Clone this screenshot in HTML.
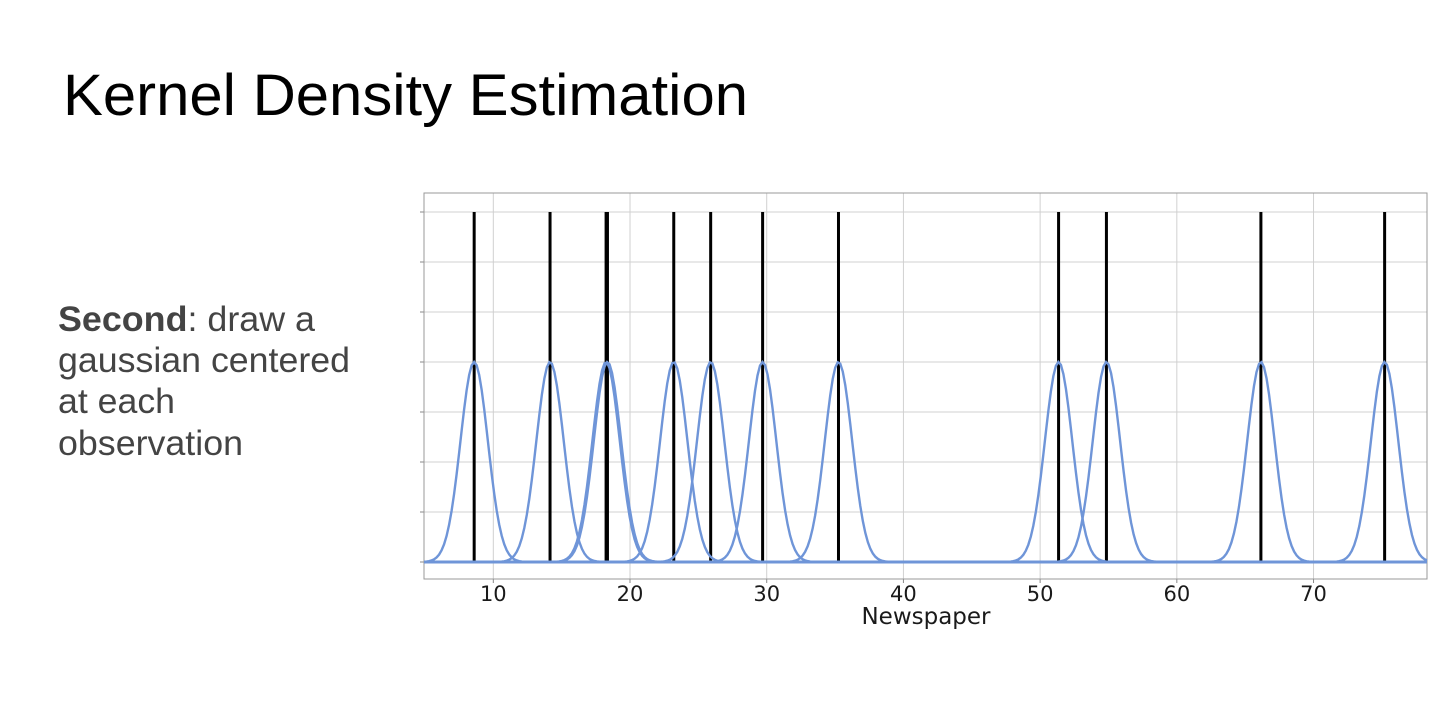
<!DOCTYPE html>
<html><head><meta charset="utf-8"><style>
html,body{margin:0;padding:0;background:#fff;width:1440px;height:710px;overflow:hidden}
svg{display:block}
</style></head><body>
<svg width="1440" height="710" xmlns="http://www.w3.org/2000/svg">
<text x="63" y="115" font-family="Liberation Sans, sans-serif" font-size="58" fill="#000" textLength="685" lengthAdjust="spacingAndGlyphs">Kernel Density Estimation</text>
<g font-family="Liberation Sans, sans-serif" font-size="35" fill="#444">
<text x="58" y="331" textLength="257" lengthAdjust="spacingAndGlyphs"><tspan font-weight="bold">Second</tspan>: draw a</text>
<text x="58" y="372" textLength="292" lengthAdjust="spacingAndGlyphs">gaussian centered</text>
<text x="58" y="413" textLength="117" lengthAdjust="spacingAndGlyphs">at each</text>
<text x="58" y="455" textLength="185" lengthAdjust="spacingAndGlyphs">observation</text>
</g>
<g id="chart"></g>
</svg>
<script>
const observations = [8.6, 14.15, 18.25, 18.35, 23.2, 25.9, 29.7, 35.25, 51.35, 54.85, 66.15, 75.2];
const xTicks = [10, 20, 30, 40, 50, 60, 70];
const yGrid = [0, 1, 2, 3, 4, 5, 6, 7];
const lineHeight = [7];
const kernelPeak = [4];
const bandwidth = [1.0];
const xLabel = "Newspaper";

const L=424,R=1427,T=193,B=579;
const xmin=4.93,xmax=78.3,ymin=-0.34,ymax=7.38;
const sx=v=>L+(v-xmin)/(xmax-xmin)*(R-L);
const sy=v=>B-(v-ymin)/(ymax-ymin)*(B-T);
const NS="http://www.w3.org/2000/svg";
const g=document.getElementById('chart');
function mk(t,a){const e=document.createElementNS(NS,t);for(const k in a)e.setAttribute(k,a[k]);g.appendChild(e);return e;}

let e=mk('rect',{x:L,y:T,width:R-L,height:B-T,fill:'#fff',stroke:'none'});


xTicks.forEach(t=>{
  let l=mk('line',{x1:sx(t),x2:sx(t),y1:T,y2:B,stroke:'#d0d0d0','stroke-width':1});
  
  
  let tk=mk('line',{x1:sx(t),x2:sx(t),y1:B,y2:B+4,stroke:'#888','stroke-width':1});
  
  
  let tx=mk('text',{x:sx(t),y:601,'text-anchor':'middle','font-family':'DejaVu Sans, sans-serif','font-size':21,fill:'#1a1a1a'});
  tx.textContent=t;
  
  
});
yGrid.forEach(t=>{
  let l=mk('line',{x1:L,x2:R,y1:sy(t),y2:sy(t),stroke:'#d0d0d0','stroke-width':1});
  
  
  let tk=mk('line',{x1:L-4,x2:L,y1:sy(t),y2:sy(t),stroke:'#888','stroke-width':1});
  
  
});
e=mk('rect',{x:L,y:T,width:R-L,height:B-T,fill:'none',stroke:'#999','stroke-width':1});



observations.forEach(o=>{
  let l=mk('line',{x1:sx(o),x2:sx(o),y1:sy(0),y2:sy(lineHeight[0]),stroke:'#000','stroke-width':3});
  
  
});
const h=bandwidth[0];
observations.forEach(o=>{
  let d='';
  for(let i=0;i<=400;i++){
    const x=xmin+(xmax-xmin)*i/400;
    const y=kernelPeak[0]*Math.exp(-0.5*((x-o)/h)**2);
    d+=(i?'L':'M')+sx(x).toFixed(2)+','+sy(y).toFixed(2);
  }
  let p=mk('path',{d:d,fill:'none',stroke:'#6f95d8','stroke-width':2.4});
  
  
});
let xl=mk('text',{x:926,y:624,'text-anchor':'middle','font-family':'DejaVu Sans, sans-serif','font-size':23,fill:'#1a1a1a'});
xl.textContent=xLabel;


</script>
</body></html>
